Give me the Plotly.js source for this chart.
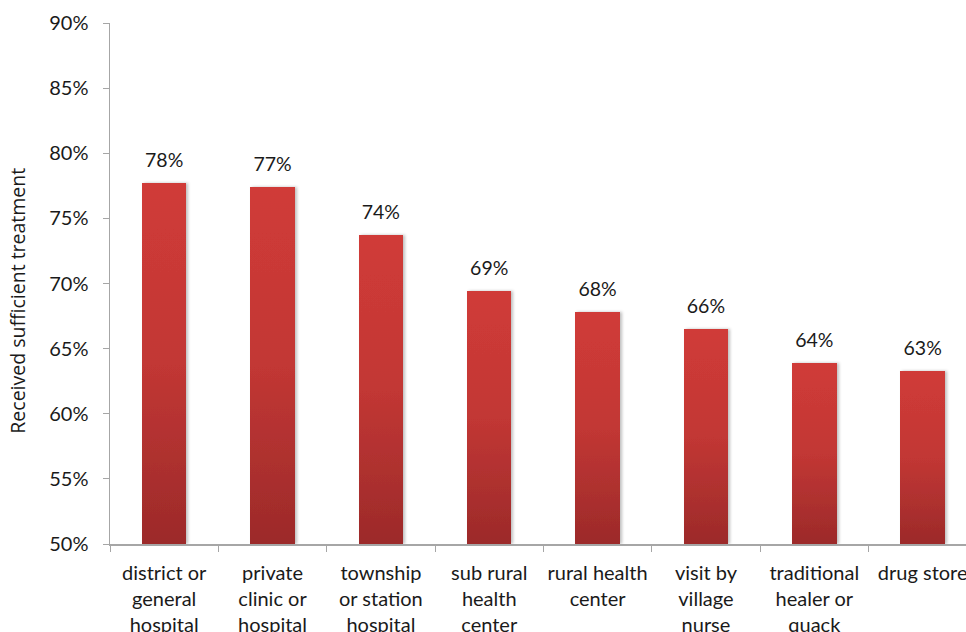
<!DOCTYPE html>
<html>
<head>
<meta charset="utf-8">
<script src="https://cdn.plot.ly/plotly-3.0.1.min.js"></script>
<style>
html,body{margin:0;padding:0;background:#fff;}
#chart{width:966px;height:632px;}
</style>
</head>
<body>
<div id="chart"></div>
<script>
// Data
const categories = [
  "district or<br>general<br>hospital",
  "private<br>clinic or<br>hospital",
  "township<br>or station<br>hospital",
  "sub rural<br>health<br>center",
  "rural health<br>center",
  "visit by<br>village<br>nurse",
  "traditional<br>healer or<br>quack",
  "drug store"
];
const values = [77.7, 77.4, 73.7, 69.4, 67.8, 66.5, 63.9, 63.3];
const valueLabels = ["78%", "77%", "74%", "69%", "68%", "66%", "64%", "63%"];
const yTickVals = [50, 55, 60, 65, 70, 75, 80, 85, 90];
const yTickText = ["50%", "55%", "60%", "65%", "70%", "75%", "80%", "85%", "90%"];
const yTitle = "Received sufficient treatment";
const baseline = 50;

const labelFont = "Lato, 'Open Sans', sans-serif";

const barTrace = {
  type: "bar",
  x: categories,
  y: values.map(v => v - baseline),
  base: baseline,
  width: 0.41,
  marker: {color: "#b83432", line: {width: 0}},
  hoverinfo: "skip",
  showlegend: false
};

const textTrace = {
  type: "scatter",
  mode: "markers+text",
  x: categories,
  y: values,
  text: valueLabels,
  textposition: "top center",
  marker: {size: 16, color: "rgba(0,0,0,0)"},
  textfont: {family: labelFont, size: 19.5, color: "#1a1a1a"},
  cliponaxis: false,
  hoverinfo: "skip",
  showlegend: false
};

const layout = {
  width: 966,
  height: 632,
  margin: {l: 110, r: 0, t: 23, b: 88, pad: 0},
  paper_bgcolor: "#ffffff",
  plot_bgcolor: "#ffffff",
  bargap: 0,
  xaxis: {
    type: "category",
    range: [-0.5, 7.4],
    showline: true,
    linecolor: "#a6a6a6",
    linewidth: 1.5,
    ticks: "outside",
    tickson: "boundaries",
    ticklen: 6,
    tickcolor: "#a6a6a6",
    tickwidth: 1,
    showgrid: false,
    zeroline: false,
    tickangle: 0,
    ticklabelstandoff: 10,
    tickfont: {family: labelFont, size: 20, color: "#1a1a1a"},
    fixedrange: true
  },
  yaxis: {
    range: [50, 90],
    tickvals: yTickVals,
    ticktext: yTickText,
    showline: true,
    linecolor: "#a6a6a6",
    linewidth: 1.5,
    ticks: "outside",
    ticklen: 6,
    tickcolor: "#a6a6a6",
    tickwidth: 1,
    showgrid: false,
    zeroline: false,
    ticklabelstandoff: 10,
    tickfont: {family: labelFont, size: 20, color: "#1a1a1a"},
    fixedrange: true
  },
  annotations: [{
    text: yTitle,
    xref: "paper", yref: "paper",
    x: -92 / 856, y: 0.467,
    xanchor: "center", yanchor: "middle",
    textangle: -90,
    showarrow: false,
    font: {family: "'Open Sans', sans-serif", size: 19.5, color: "#1a1a1a"}
  }],
  showlegend: false
};

function applyGradient(gd) {
  const svg = gd.querySelector("svg.main-svg");
  if (!svg) return;
  const ns = "http://www.w3.org/2000/svg";
  let defs = svg.querySelector("defs");
  if (!defs) {
    defs = document.createElementNS(ns, "defs");
    svg.insertBefore(defs, svg.firstChild);
  }
  if (!svg.querySelector("#barGrad")) {
    const g = document.createElementNS(ns, "linearGradient");
    g.setAttribute("id", "barGrad");
    g.setAttribute("x1", "0"); g.setAttribute("y1", "0");
    g.setAttribute("x2", "0"); g.setAttribute("y2", "1");
    [["0", "#d03b38"], ["0.5", "#c23734"], ["1", "#9c2a2a"]].forEach(([o, c]) => {
      const s = document.createElementNS(ns, "stop");
      s.setAttribute("offset", o);
      s.setAttribute("stop-color", c);
      g.appendChild(s);
    });
    defs.appendChild(g);
    const f = document.createElementNS(ns, "filter");
    f.setAttribute("id", "barShadow");
    f.setAttribute("x", "-20%"); f.setAttribute("y", "-5%");
    f.setAttribute("width", "140%"); f.setAttribute("height", "110%");
    const ds = document.createElementNS(ns, "feDropShadow");
    ds.setAttribute("dx", "2"); ds.setAttribute("dy", "0");
    ds.setAttribute("stdDeviation", "1.5");
    ds.setAttribute("flood-color", "#000");
    ds.setAttribute("flood-opacity", "0.25");
    f.appendChild(ds);
    defs.appendChild(f);
  }
  gd.querySelectorAll(".barlayer .point path").forEach(p => {
    p.style.fill = "url(#barGrad)";
    p.setAttribute("filter", "url(#barShadow)");
  });
}

const gd = document.getElementById("chart");
Plotly.newPlot(gd, [barTrace, textTrace], layout, {displayModeBar: false, staticPlot: true}).then(() => {
  applyGradient(gd);
  gd.on("plotly_afterplot", () => applyGradient(gd));
});
</script>
</body>
</html>
